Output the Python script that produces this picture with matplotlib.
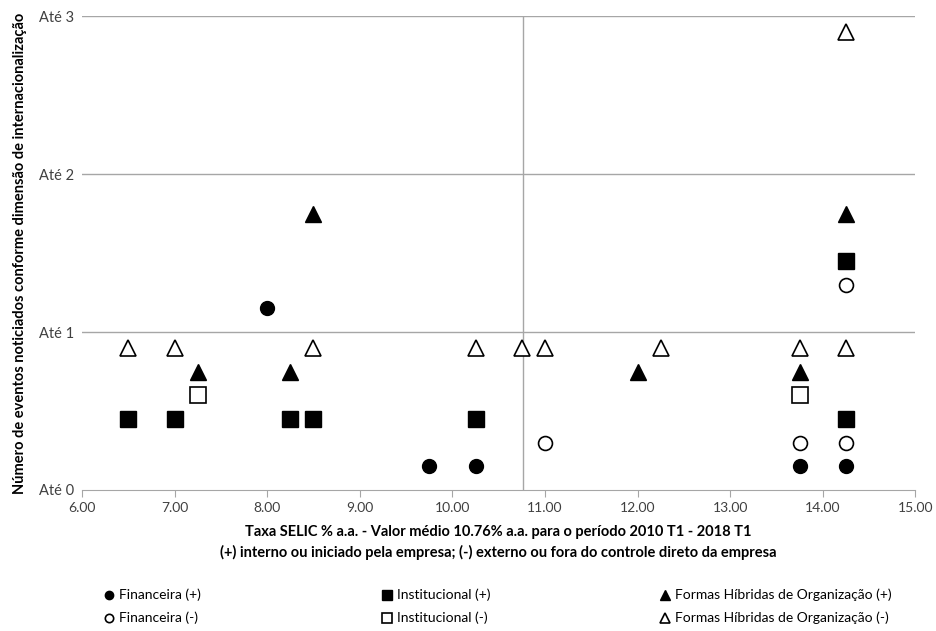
import matplotlib.pyplot as plt

plt.rcParams['font.family'] = ['Lato', 'DejaVu Sans']

# dados (x = taxa SELIC, y = nº de eventos)
fin_pos_x = [8.00, 9.75, 10.25, 13.75, 14.25]
fin_pos_y = [1.15, 0.15, 0.15, 0.15, 0.15]
fin_neg_x = [11.00, 13.75, 14.25, 14.25]
fin_neg_y = [0.30, 0.30, 0.30, 1.30]
inst_pos_x = [6.50, 7.00, 8.25, 8.50, 10.25, 14.25, 14.25]
inst_pos_y = [0.45, 0.45, 0.45, 0.45, 0.45, 0.45, 1.45]
inst_neg_x = [7.25, 13.75]
inst_neg_y = [0.60, 0.60]
hib_pos_x = [7.25, 8.25, 8.50, 12.00, 13.75, 14.25]
hib_pos_y = [0.75, 0.75, 1.75, 0.75, 0.75, 1.75]
hib_neg_x = [6.50, 7.00, 8.50, 10.25, 10.75, 11.00, 12.25, 13.75, 14.25, 14.25]
hib_neg_y = [0.90, 0.90, 0.90, 0.90, 0.90, 0.90, 0.90, 0.90, 0.90, 2.90]

selic_media = 10.76
y_ticks = [0, 1, 2, 3]
y_labels = ['Até 0', 'Até 1', 'Até 2', 'Até 3']
x_ticks = [6, 7, 8, 9, 10, 11, 12, 13, 14, 15]

fig = plt.figure(figsize=(9.36, 6.31), dpi=100)
ax = fig.add_axes([0.0876, 0.2235, 0.8904, 0.751])

ax.axvline(selic_media, color='#a6a6a6', lw=1, zorder=1)
for y in y_ticks[1:]:
    ax.axhline(y, color='#a6a6a6', lw=1, zorder=1)

ax.plot(fin_pos_x, fin_pos_y, 'o', ms=10, mfc='black', mec='black', ls='none', label='Financeira (+)', zorder=3)
ax.plot(fin_neg_x, fin_neg_y, 'o', ms=10, mfc='white', mec='black', mew=1.2, ls='none', label='Financeira (-)', zorder=3)
ax.plot(inst_pos_x, inst_pos_y, 's', ms=11, mfc='black', mec='black', ls='none', label='Institucional (+)', zorder=3)
ax.plot(inst_neg_x, inst_neg_y, 's', ms=11, mfc='white', mec='black', mew=1.2, ls='none', label='Institucional (-)', zorder=3)
ax.plot(hib_pos_x, hib_pos_y, '^', ms=11, mfc='black', mec='black', ls='none', label='Formas Híbridas de Organização (+)', zorder=3)
ax.plot(hib_neg_x, hib_neg_y, '^', ms=11, mfc='white', mec='black', mew=1.2, ls='none', label='Formas Híbridas de Organização (-)', zorder=3)

ax.set_xlim(6, 15)
ax.set_ylim(0, 3)
ax.set_xticks(x_ticks)
ax.set_xticklabels(['%.2f' % v for v in x_ticks])
ax.set_yticks(y_ticks)
ax.set_yticklabels(y_labels)

for s in ['top', 'right', 'left']:
    ax.spines[s].set_visible(False)
ax.spines['bottom'].set_color('#a6a6a6')
ax.tick_params(axis='x', colors='#a6a6a6', labelcolor='#404040', labelsize=10, length=5, direction='out')
ax.tick_params(axis='y', length=0, labelcolor='#404040', labelsize=10.5, pad=6)

ax.set_xlabel('Taxa SELIC % a.a. - Valor médio 10.76% a.a. para o período 2010 T1 - 2018 T1\n'
              '(+) interno ou iniciado pela empresa; (-) externo ou fora do controle direto da empresa',
              fontsize=10.5, fontweight='bold', labelpad=8, linespacing=1.5)
ax.set_ylabel('Número de eventos noticiados conforme dimensão de internacionalização',
              fontsize=10.5, fontweight='bold', labelpad=8)

# legenda em três colunas, cada uma posicionada separadamente
h, l = ax.get_legend_handles_labels()
col_x = [0.103, 0.400, 0.697]
for i, x0 in enumerate(col_x):
    leg = fig.legend(h[2 * i:2 * i + 2], l[2 * i:2 * i + 2], loc='upper left',
                     bbox_to_anchor=(x0, 1 - 582 / 631), frameon=False, borderpad=0,
                     fontsize=10, markerscale=0.6, handlelength=0.8, handletextpad=0.3,
                     labelspacing=0.75)

plt.savefig('out.png', dpi=100)
